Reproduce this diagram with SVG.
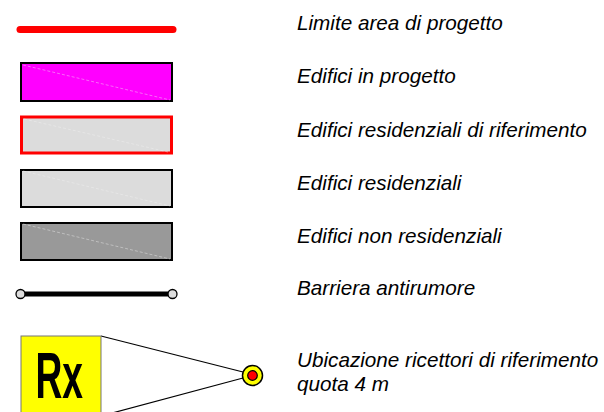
<svg xmlns="http://www.w3.org/2000/svg" width="604" height="412" viewBox="0 0 604 412">
<style>
.lbl{font-family:"Liberation Sans",Arial,sans-serif;font-style:italic;font-size:20.7px;fill:#000}
.bld{stroke:#000;stroke-width:2}
.diag{stroke:#f4f4f4;stroke-width:0.6;stroke-dasharray:3 2;opacity:0.7}
</style>
<rect width="604" height="412" fill="#fff"/>
<g id="limite">
<line x1="20" y1="29.5" x2="173" y2="29.5" stroke="#f00" stroke-width="7" stroke-linecap="round"/>
<text class="lbl" x="297" y="29.5">Limite area di progetto</text>
</g>
<g id="edifici-progetto">
<rect class="bld" x="21" y="63" width="151" height="38" fill="#f0f"/>
<line class="diag" x1="23" y1="65" x2="170" y2="100"/>
<text class="lbl" x="297" y="83">Edifici in progetto</text>
</g>
<g id="edifici-riferimento">
<rect x="21.5" y="117" width="150" height="36" fill="#dcdcdc" stroke="#f00" stroke-width="3"/>
<line class="diag" x1="24" y1="119" x2="168" y2="152"/>
<text class="lbl" x="297" y="137">Edifici residenziali di riferimento</text>
</g>
<g id="edifici-residenziali">
<rect class="bld" x="21" y="170" width="151" height="37" fill="#dcdcdc"/>
<line class="diag" x1="23" y1="171" x2="170" y2="206"/>
<text class="lbl" x="297" y="190">Edifici residenziali</text>
</g>
<g id="edifici-non-residenziali">
<rect class="bld" x="21" y="223" width="151" height="37" fill="#999"/>
<line class="diag" x1="23" y1="224" x2="170" y2="259"/>
<text class="lbl" x="297" y="243">Edifici non residenziali</text>
</g>
<g id="barriera">
<line x1="20.5" y1="294" x2="172.5" y2="294" stroke="#000" stroke-width="5"/>
<circle cx="20.5" cy="294" r="4.5" fill="#ddd" stroke="#000" stroke-width="1.3"/>
<circle cx="172.5" cy="294" r="4.5" fill="#ddd" stroke="#000" stroke-width="1.3"/>
<text class="lbl" x="297" y="295">Barriera antirumore</text>
</g>
<g id="connectors">
<line x1="101" y1="336" x2="243" y2="372" stroke="#000" stroke-width="1.2"/>
<line x1="101" y1="416" x2="243" y2="378" stroke="#000" stroke-width="1.2"/>
</g>
<g id="ricettori">
<rect x="21" y="336" width="80" height="90" fill="#ff0" stroke="#777" stroke-width="1"/>
<text x="35.5" y="398" font-family="'Liberation Sans',Arial,sans-serif" font-weight="bold" font-size="64" textLength="47.5" lengthAdjust="spacingAndGlyphs">Rx</text>
<circle cx="252.5" cy="375.5" r="10" fill="#ff0" stroke="#000" stroke-width="1.5"/>
<circle cx="252.5" cy="375.5" r="4.8" fill="#f00" stroke="#000" stroke-width="1.2"/>
<text class="lbl" x="297" y="367">Ubicazione ricettori di riferimento</text>
<text class="lbl" x="297" y="391">quota 4 m</text>
</g>
</svg>
